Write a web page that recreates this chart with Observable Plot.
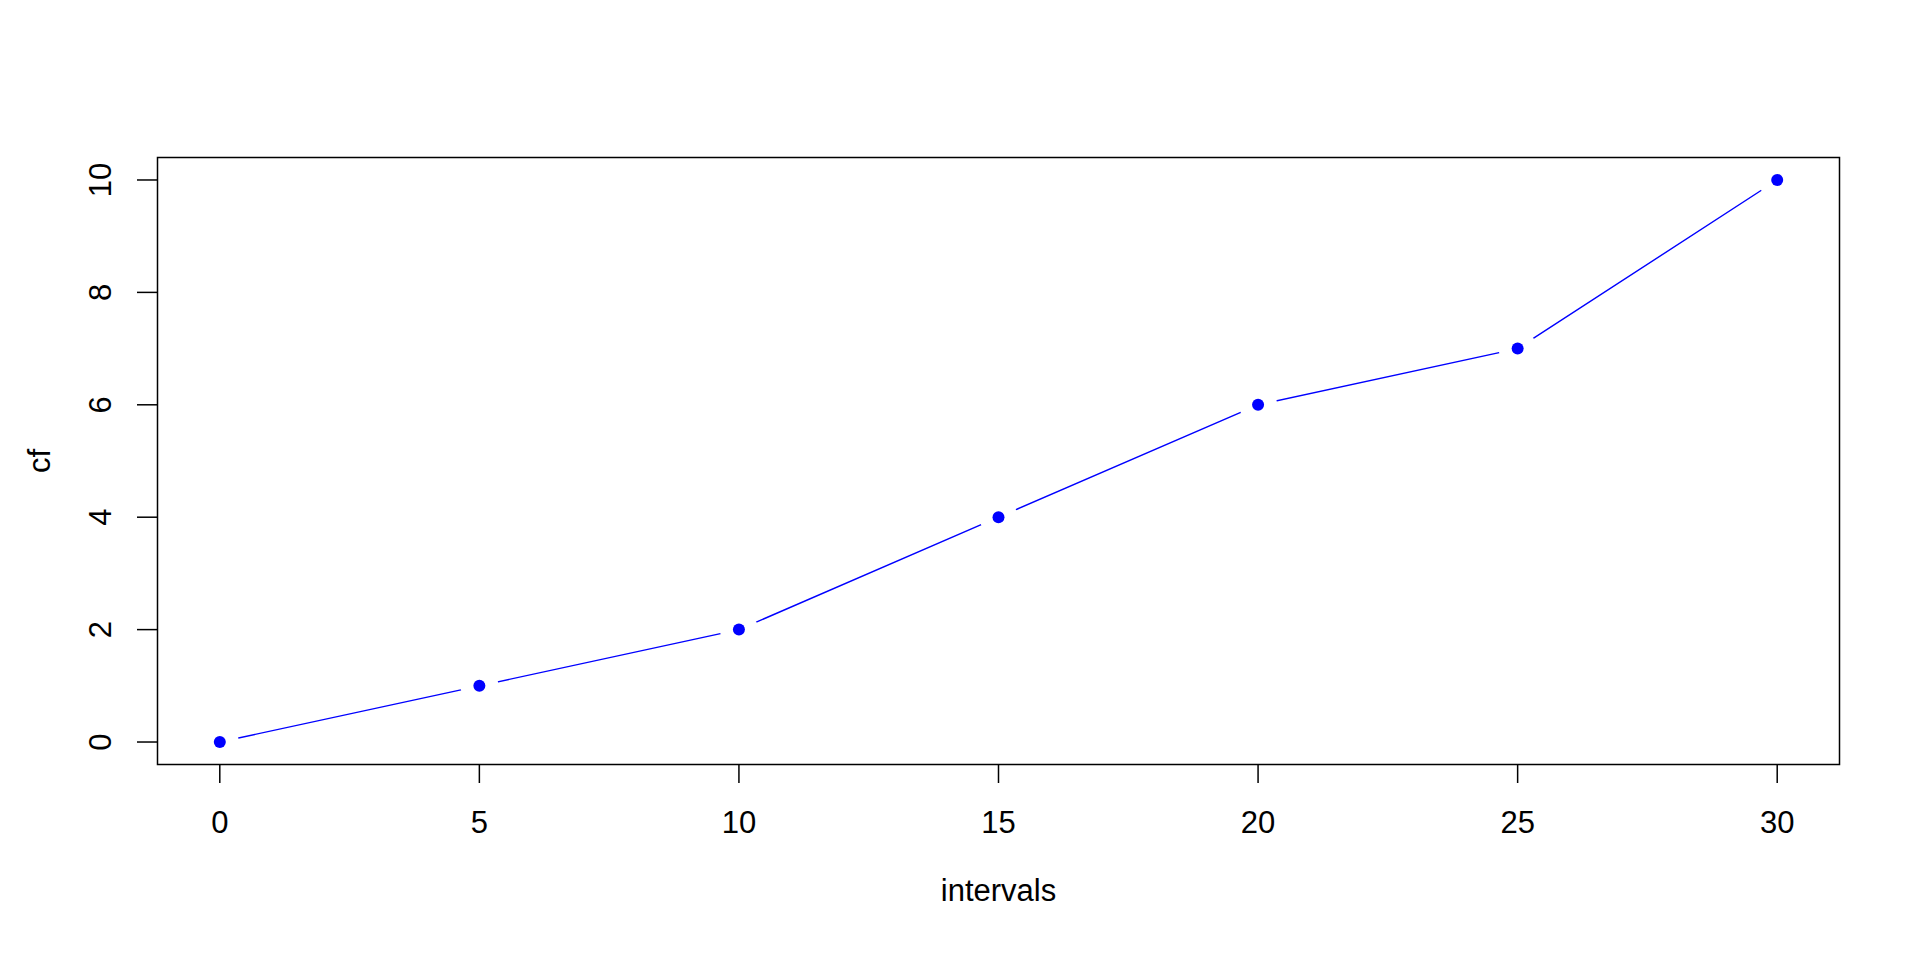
<!DOCTYPE html>
<html>
<head>
<meta charset="utf-8">
<script src="https://cdn.jsdelivr.net/npm/d3@7"></script>
<script src="https://cdn.jsdelivr.net/npm/@observablehq/plot@0.6"></script>
<style>
  html, body { margin: 0; padding: 0; background: #fff; }
  #chart svg { display: block; }
</style>
</head>
<body>
<div id="chart"></div>
<script>
const intervals = [0, 5, 10, 15, 20, 25, 30];
const cf = [0, 1, 2, 4, 6, 7, 10];
const xTicks = [0, 5, 10, 15, 20, 25, 30];
const yTicks = [0, 2, 4, 6, 8, 10];

const data = intervals.map((x, i) => ({x, y: cf[i]}));

const chart = Plot.plot({
  width: 1920,
  height: 960,
  marginLeft: 157,
  marginRight: 81,
  marginTop: 157,
  marginBottom: 196,
  style: {fontFamily: "'Liberation Sans', Arial, Helvetica, sans-serif", fontSize: "31px", color: "#000", background: "#fff"},
  x: {domain: [-1.2, 31.2]},
  y: {domain: [-0.4, 10.4]},
  marks: [
    Plot.frame({stroke: "#000", strokeWidth: 1.5}),
    Plot.line(data, {x: "x", y: "y", stroke: "#0000ff", strokeWidth: 1.4}),
    Plot.dot(data, {x: "x", y: "y", r: 19, fill: "#fff", stroke: null}),
    Plot.dot(data, {x: "x", y: "y", r: 6, fill: "#0000ff", stroke: null}),
    Plot.axisX({ticks: xTicks, tickSize: 19, tickPadding: 27, strokeWidth: 1.5, label: "intervals", labelAnchor: "center", labelOffset: 136, labelArrow: false}),
    Plot.axisY({ticks: yTicks, tickSize: 20, tickPadding: 27, tickRotate: -90, strokeWidth: 1.5, label: "cf", labelAnchor: "center", labelOffset: 130, labelArrow: false})
  ]
});
document.getElementById("chart").appendChild(chart);
</script>
</body>
</html>
